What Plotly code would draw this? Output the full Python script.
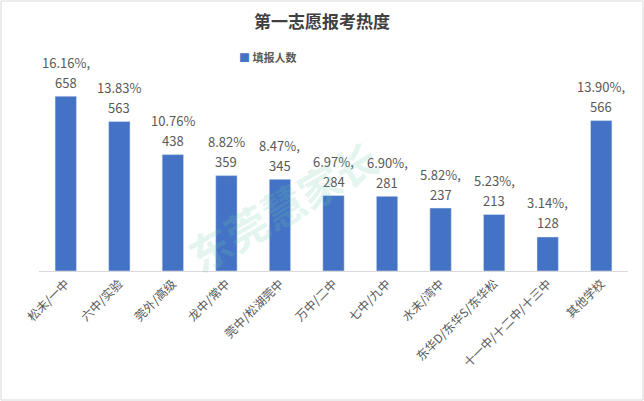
import plotly.graph_objects as go

categories = ["松未/一中", "六中/实验", "莞外/高级", "龙中/常中", "莞中/松湖莞中", "万中/二中",
              "七中/九中", "水未/湾中", "东华D/东华S/东华松", "十一中/十二中/十三中", "其他学校"]
counts = [658, 563, 438, 359, 345, 284, 281, 237, 213, 128, 566]
percent_labels = ["16.16%,", "13.83%", "10.76%", "8.82%", "8.47%,", "6.97%,", "6.90%,", "5.82%,", "5.23%,", "3.14%,", "13.90%,"]

font_family = "Noto Sans CJK SC, Noto Sans, sans-serif"
grey = "#595959"

fig = go.Figure()
fig.add_trace(go.Bar(
    x=categories, y=counts, name="填报人数",
    marker_color="#4472C4", width=0.4,
    showlegend=False, cliponaxis=False,
))

W, H = 644, 401
l, r, t, b = 39, 16, 85, 130
pw, ph = W - l - r, H - t - b

def px(x):
    return (x - l) / pw

def py(y):
    return (H - b - y) / ph

fig.update_layout(
    width=W, height=H,
    margin=dict(l=l, r=r, t=t, b=b),
    paper_bgcolor="white", plot_bgcolor="white",
    font=dict(family=font_family, color=grey),
    title=dict(text="<b>第一志愿报考热度</b>", x=0.5, xanchor="center", y=1 - 22 / H, yanchor="middle",
               font=dict(size=17, color="#404040", family=font_family)),
    showlegend=False,
    xaxis=dict(showline=True, linecolor="#d9d9d9", linewidth=1, ticks="", tickangle=-45,
               tickfont=dict(size=12, color=grey, family=font_family), showgrid=False),
    yaxis=dict(range=[0, 700], visible=False, showgrid=False),
    bargap=0.6,
)

# data labels: two lines, placed from the data values
for cat, cnt, pct in zip(categories, counts, percent_labels):
    fig.add_annotation(x=cat, y=cnt, text=str(cnt), showarrow=False, yanchor="middle",
                       yshift=14, font=dict(size=13, color=grey, family=font_family))
    fig.add_annotation(x=cat, y=cnt, text=pct, showarrow=False, yanchor="middle",
                       yshift=34, font=dict(size=13, color=grey, family=font_family))

# legend drawn as annotation
fig.add_annotation(text="<span style='color:#4472C4'>■</span> <b>填报人数</b>",
                   xref="paper", yref="paper", x=px(237), y=py(57), xanchor="left", yanchor="middle",
                   showarrow=False, font=dict(size=11, color=grey, family=font_family))

# watermark
fig.add_annotation(text="<b>东莞慧家长</b>", xref="paper", yref="paper", x=px(282), y=py(205),
                   showarrow=False, textangle=-30,
                   font=dict(size=42, color="rgba(110,205,165,0.2)", family=font_family))

fig.add_shape(type="rect", xref="paper", yref="paper",
              x0=px(1), x1=px(W - 1), y0=py(H - 1), y1=py(1),
              line=dict(color="#d9d9d9", width=1), fillcolor="rgba(0,0,0,0)", layer="below")

fig.write_html("out.html")
